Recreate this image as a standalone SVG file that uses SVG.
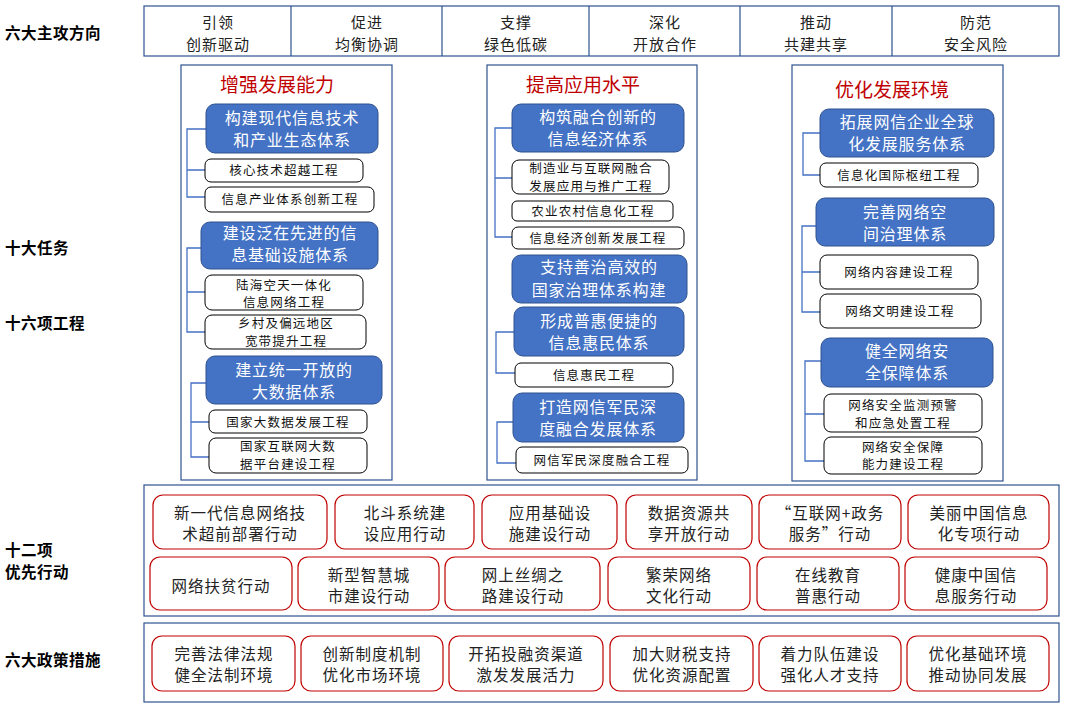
<svg xmlns="http://www.w3.org/2000/svg" width="1066" height="707" viewBox="0 0 1066 707">
<style>
text{font-family:"Noto Sans CJK SC","Microsoft YaHei",sans-serif;text-anchor:middle}
.frame{fill:none;stroke:#2F528F;stroke-width:1.2}
.blue{fill:#4472C4;stroke:#2F528F;stroke-width:1}
.wbox{fill:#fff;stroke:#000;stroke-width:1}
.rbox{fill:#fff;stroke:#C00000;stroke-width:1.2}
.br{fill:none;stroke:#4472C4;stroke-width:1.3}
.bt{font-size:16px;fill:#fff;letter-spacing:0.8px}
.wt{font-size:12.5px;fill:#111;letter-spacing:1.2px}
.rt{font-size:15.5px;fill:#222;letter-spacing:1px}
.tt{font-size:15px;fill:#222;letter-spacing:1px}
.title{font-size:19px;fill:#C00000}
.lbl{font-size:15.5px;font-weight:bold;fill:#000;text-anchor:start;letter-spacing:0.5px}
</style>

<g id="labels">
<text class="lbl" x="5" y="39">六大主攻方向</text>
<text class="lbl" x="5" y="254">十大任务</text>
<text class="lbl" x="5" y="329">十六项工程</text>
<text class="lbl" x="5" y="556">十二项</text>
<text class="lbl" x="5" y="578">优先行动</text>
<text class="lbl" x="5" y="666">六大政策措施</text>
</g>

<g id="directions">
<rect class="frame" x="144" y="6" width="915" height="50"/>
<path class="frame" d="M291 6V56M442 6V56M589 6V56M740 6V56M892 6V56"/>
<text class="tt" x="218" y="28">引领</text><text class="tt" x="218" y="50">创新驱动</text>
<text class="tt" x="367" y="28">促进</text><text class="tt" x="367" y="50">均衡协调</text>
<text class="tt" x="516" y="28">支撑</text><text class="tt" x="516" y="50">绿色低碳</text>
<text class="tt" x="665" y="28">深化</text><text class="tt" x="665" y="50">开放合作</text>
<text class="tt" x="816" y="28">推动</text><text class="tt" x="816" y="50">共建共享</text>
<text class="tt" x="976" y="28">防范</text><text class="tt" x="976" y="50">安全风险</text>
</g>

<g id="connectors">
<path class="br" d="M206 129H187V197H205M187 170H205"/>
<path class="br" d="M201 248H187V332H205M187 292H205"/>
<path class="br" d="M206 383H191V457H209M191 422H209"/>
<path class="br" d="M512 128H495V237H512M495 178H512"/>
<path class="br" d="M514 332H496V373H515"/>
<path class="br" d="M513 422H497V463H516"/>
<path class="br" d="M820 133H803V175H820"/>
<path class="br" d="M816 226H802V312H820M802 272H820"/>
<path class="br" d="M821 361H805V461H825M805 414H825"/>
</g>

<g id="col1">
<rect class="frame" x="181" y="65" width="211" height="415"/>
<text class="title" x="277" y="92">增强发展能力</text>
<g id="c1b1"><rect class="blue" x="206" y="104" width="172" height="49" rx="9"/>
<text class="bt" x="292" y="124">构建现代信息技术</text><text class="bt" x="292" y="146">和产业生态体系</text></g>
<g id="c1w1"><rect class="wbox" x="205" y="159" width="158" height="23" rx="6"/><text class="wt" x="284" y="175">核心技术超越工程</text></g>
<g id="c1w2"><rect class="wbox" x="205" y="187" width="169" height="25" rx="6"/><text class="wt" x="290" y="204">信息产业体系创新工程</text></g>
<g id="c1b2"><rect class="blue" x="201" y="222" width="177" height="47" rx="9"/>
<text class="bt" x="290" y="239">建设泛在先进的信</text><text class="bt" x="290" y="261">息基础设施体系</text></g>
<g id="c1w3"><rect class="wbox" x="205" y="275" width="158" height="35" rx="7"/>
<text class="wt" x="284" y="290">陆海空天一体化</text><text class="wt" x="284" y="307">信息网络工程</text></g>
<g id="c1w4"><rect class="wbox" x="205" y="315" width="161" height="34" rx="7"/>
<text class="wt" x="286" y="328">乡村及偏远地区</text><text class="wt" x="286" y="346">宽带提升工程</text></g>
<g id="c1b3"><rect class="blue" x="206" y="356" width="176" height="48" rx="9"/>
<text class="bt" x="294" y="376">建立统一开放的</text><text class="bt" x="294" y="398">大数据体系</text></g>
<g id="c1w5"><rect class="wbox" x="209" y="410" width="158" height="23" rx="6"/><text class="wt" x="288" y="427">国家大数据发展工程</text></g>
<g id="c1w6"><rect class="wbox" x="209" y="438" width="158" height="35" rx="7"/>
<text class="wt" x="288" y="451">国家互联网大数</text><text class="wt" x="288" y="469">据平台建设工程</text></g>
</g>

<g id="col2">
<rect class="frame" x="487" y="65" width="210" height="415"/>
<text class="title" x="583" y="92">提高应用水平</text>
<g id="c2b1"><rect class="blue" x="512" y="104" width="172" height="48" rx="9"/>
<text class="bt" x="598" y="123">构筑融合创新的</text><text class="bt" x="598" y="145">信息经济体系</text></g>
<g id="c2w1"><rect class="wbox" x="512" y="160" width="157" height="34" rx="7"/>
<text class="wt" x="591" y="173">制造业与互联网融合</text><text class="wt" x="591" y="191">发展应用与推广工程</text></g>
<g id="c2w2"><rect class="wbox" x="512" y="201" width="161" height="20" rx="5"/><text class="wt" x="593" y="216">农业农村信息化工程</text></g>
<g id="c2w3"><rect class="wbox" x="512" y="227" width="172" height="22" rx="6"/><text class="wt" x="598" y="243">信息经济创新发展工程</text></g>
<g id="c2b2"><rect class="blue" x="512" y="255" width="175" height="48" rx="9"/>
<text class="bt" x="599" y="273">支持善治高效的</text><text class="bt" x="599" y="296">国家治理体系构建</text></g>
<g id="c2b3"><rect class="blue" x="514" y="307" width="170" height="49" rx="9"/>
<text class="bt" x="599" y="327">形成普惠便捷的</text><text class="bt" x="599" y="349">信息惠民体系</text></g>
<g id="c2w4"><rect class="wbox" x="515" y="363" width="158" height="24" rx="6"/><text class="wt" x="594" y="380">信息惠民工程</text></g>
<g id="c2b4"><rect class="blue" x="513" y="393" width="171" height="49" rx="9"/>
<text class="bt" x="598" y="413">打造网信军民深</text><text class="bt" x="598" y="435">度融合发展体系</text></g>
<g id="c2w5"><rect class="wbox" x="516" y="447" width="172" height="26" rx="6"/><text class="wt" x="602" y="465">网信军民深度融合工程</text></g>
</g>

<g id="col3">
<rect class="frame" x="792" y="65" width="211" height="416"/>
<text class="title" x="892" y="97">优化发展环境</text>
<g id="c3b1"><rect class="blue" x="820" y="109" width="174" height="48" rx="9"/>
<text class="bt" x="907" y="128">拓展网信企业全球</text><text class="bt" x="907" y="150">化发展服务体系</text></g>
<g id="c3w1"><rect class="wbox" x="820" y="163" width="158" height="24" rx="6"/><text class="wt" x="899" y="180">信息化国际枢纽工程</text></g>
<g id="c3b2"><rect class="blue" x="816" y="198" width="178" height="48" rx="9"/>
<text class="bt" x="905" y="218">完善网络空</text><text class="bt" x="905" y="240">间治理体系</text></g>
<g id="c3w2"><rect class="wbox" x="820" y="255" width="158" height="34" rx="7"/><text class="wt" x="899" y="277">网络内容建设工程</text></g>
<g id="c3w3"><rect class="wbox" x="820" y="294" width="161" height="34" rx="7"/><text class="wt" x="900" y="316">网络文明建设工程</text></g>
<g id="c3b3"><rect class="blue" x="821" y="338" width="172" height="49" rx="9"/>
<text class="bt" x="907" y="357">健全网络安</text><text class="bt" x="907" y="379">全保障体系</text></g>
<g id="c3w4"><rect class="wbox" x="824" y="394" width="158" height="38" rx="7"/>
<text class="wt" x="903" y="410">网络安全监测预警</text><text class="wt" x="903" y="428">和应急处置工程</text></g>
<g id="c3w5"><rect class="wbox" x="824" y="437" width="158" height="37" rx="7"/>
<text class="wt" x="903" y="452">网络安全保障</text><text class="wt" x="903" y="469">能力建设工程</text></g>
</g>

<g id="actions">
<rect class="frame" x="144" y="485" width="915" height="131"/>
<g id="a1"><rect class="rbox" x="153" y="495" width="174" height="54" rx="10"/><text class="rt" x="240" y="519">新一代信息网络技</text><text class="rt" x="240" y="540">术超前部署行动</text></g>
<g id="a2"><rect class="rbox" x="335" y="495" width="139" height="54" rx="10"/><text class="rt" x="405" y="519">北斗系统建</text><text class="rt" x="405" y="540">设应用行动</text></g>
<g id="a3"><rect class="rbox" x="482" y="495" width="135" height="54" rx="10"/><text class="rt" x="550" y="519">应用基础设</text><text class="rt" x="550" y="540">施建设行动</text></g>
<g id="a4"><rect class="rbox" x="626" y="495" width="126" height="54" rx="10"/><text class="rt" x="689" y="519">数据资源共</text><text class="rt" x="689" y="540">享开放行动</text></g>
<g id="a5"><rect class="rbox" x="759" y="495" width="142" height="54" rx="10"/><text class="rt" x="830" y="519">“互联网+政务</text><text class="rt" x="830" y="540">服务”行动</text></g>
<g id="a6"><rect class="rbox" x="908" y="495" width="141" height="54" rx="10"/><text class="rt" x="979" y="519">美丽中国信息</text><text class="rt" x="979" y="540">化专项行动</text></g>
<g id="a7"><rect class="rbox" x="150" y="557" width="142" height="53" rx="10"/><text class="rt" x="221" y="592">网络扶贫行动</text></g>
<g id="a8"><rect class="rbox" x="298" y="557" width="141" height="53" rx="10"/><text class="rt" x="369" y="581">新型智慧城</text><text class="rt" x="369" y="602">市建设行动</text></g>
<g id="a9"><rect class="rbox" x="445" y="557" width="155" height="53" rx="10"/><text class="rt" x="523" y="581">网上丝绸之</text><text class="rt" x="523" y="602">路建设行动</text></g>
<g id="a10"><rect class="rbox" x="608" y="557" width="142" height="53" rx="10"/><text class="rt" x="679" y="581">繁荣网络</text><text class="rt" x="679" y="602">文化行动</text></g>
<g id="a11"><rect class="rbox" x="757" y="557" width="142" height="53" rx="10"/><text class="rt" x="828" y="581">在线教育</text><text class="rt" x="828" y="602">普惠行动</text></g>
<g id="a12"><rect class="rbox" x="905" y="557" width="142" height="53" rx="10"/><text class="rt" x="976" y="581">健康中国信</text><text class="rt" x="976" y="602">息服务行动</text></g>
</g>

<g id="policies">
<rect class="frame" x="144" y="623" width="915" height="79"/>
<g id="p1"><rect class="rbox" x="152" y="636" width="143" height="55" rx="10"/><text class="rt" x="224" y="660">完善法律法规</text><text class="rt" x="224" y="681">健全法制环境</text></g>
<g id="p2"><rect class="rbox" x="301" y="636" width="142" height="55" rx="10"/><text class="rt" x="372" y="660">创新制度机制</text><text class="rt" x="372" y="681">优化市场环境</text></g>
<g id="p3"><rect class="rbox" x="449" y="636" width="154" height="55" rx="10"/><text class="rt" x="526" y="660">开拓投融资渠道</text><text class="rt" x="526" y="681">激发发展活力</text></g>
<g id="p4"><rect class="rbox" x="610" y="636" width="143" height="55" rx="10"/><text class="rt" x="682" y="660">加大财税支持</text><text class="rt" x="682" y="681">优化资源配置</text></g>
<g id="p5"><rect class="rbox" x="759" y="636" width="142" height="55" rx="10"/><text class="rt" x="830" y="660">着力队伍建设</text><text class="rt" x="830" y="681">强化人才支持</text></g>
<g id="p6"><rect class="rbox" x="907" y="636" width="142" height="55" rx="10"/><text class="rt" x="978" y="660">优化基础环境</text><text class="rt" x="978" y="681">推动协同发展</text></g>
</g>
</svg>
